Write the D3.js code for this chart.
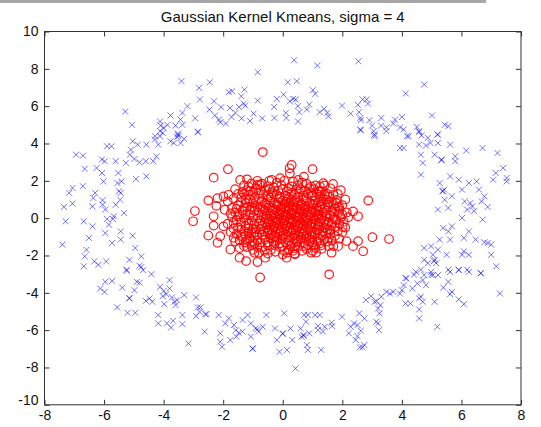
<!DOCTYPE html>
<html><head><meta charset="utf-8">
<script src="https://cdn.jsdelivr.net/npm/d3@7"></script>
<style>body{margin:0;background:#fff}svg{display:block}</style>
</head><body>
<svg id="c" width="541" height="427"></svg>
<script>
const title = "Gaussian Kernel Kmeans, sigma = 4";
const xTicks = [-8,-6,-4,-2,0,2,4,6,8];
const yTicks = [-10,-8,-6,-4,-2,0,2,4,6,8,10];

// Cluster 1 (outer ring, blue x)
const ringPoints = [
[-5.29,5.71],[-5.06,5.0],[-3.40,7.34],[-2.81,6.98],[-2.45,7.28],[-2.78,6.36],[-2.85,4.64],[-2.94,5.35],[-2.46,5.82],[-2.31,6.26],[-2.28,5.5],[-2.14,5.28],[-2.10,5.14],[-2.07,5.94],[-1.91,5.07],[-1.81,6.75],[-1.70,6.8],[-1.77,5.9],[-1.72,5.42],[-1.59,5.64],[-1.47,5.96],[-1.39,6.53],[-1.29,6.89],[-1.31,6.14],[-1.26,6.03],[-1.38,5.35],[-1.10,5.21],[-0.98,5.6],[-0.84,7.82],[-0.84,6.3],[-0.69,5.35],[-0.29,5.96],[-0.28,5.37],[-0.20,6.39],[0.03,6.62],[0.10,5.64],[0.12,5.37],[0.17,7.28],[0.24,6.26],[0.35,6.39],[0.38,8.46],[0.47,7.34],[0.43,6.36],[0.51,6.0],[0.51,5.18],[0.56,5.68],[0.81,5.82],[0.89,6.09],[1.01,6.86],[1.09,6.66],[1.16,8.18],[1.24,5.68],[1.39,5.86],[1.50,5.64],[1.53,5.46],[1.99,6.03],[2.28,5.6],[2.54,8.4],[2.52,6.07],[2.56,5.68],[2.61,5.37],[2.62,5.25],[2.68,6.36],[2.60,4.75],[2.82,6.36],[2.86,6.14],[2.91,5.25],[3.0,4.96],[3.05,4.66],[3.08,4.39],[3.31,5.37],[3.30,4.96],[3.48,4.86],[3.71,5.07],[3.77,5.28],[4.0,5.42],[3.94,4.86],[4.06,4.75],[4.13,6.68],[4.23,4.39],[4.50,4.89],[4.58,4.61],[4.66,4.43],[4.75,7.16],[5.01,5.5],[5.19,4.48],[5.44,5.0],[5.56,4.93],
[-4.29,4.39],[-4.12,4.66],[-4.1,4.96],[-4.0,4.84],[-3.77,5.5],[-3.6,4.96],[-3.43,5.28],[-3.37,5.64],[-3.2,6.0],[-3.52,4.48],[-3.37,5.0],[-4.12,5.18],[-3.87,5.0],
[-7.40,-1.42],[-7.35,0.6],[-7.29,-0.17],[-7.17,1.35],[-7.06,1.62],[-7.06,0.78],[-6.94,3.4],[-6.71,3.35],[-6.71,1.71],[-6.68,-0.17],[-6.65,2.64],[-6.65,-2.05],[-6.68,-2.58],[-6.59,-1.7],[-6.51,-1.06],[-6.39,-0.44],[-6.39,0.63],[-6.36,1.08],[-6.3,1.35],[-6.33,-2.32],[-6.25,2.69],[-6.19,-2.5],[-6.07,3.14],[-6.07,2.42],[-6.05,0.96],[-6.05,0.72],[-6.02,1.97],[-5.98,3.05],[-5.96,0.46],[-5.96,-0.8],[-5.93,-2.32],[-5.9,3.85],[-5.75,3.85],[-5.9,-0.04],[-5.84,-0.35],[-5.73,-1.33],[-5.7,-0.04],[-5.67,0.1],[-5.61,3.05],[-5.61,0.72],[-5.55,1.88],[-5.52,2.42],[-5.5,1.44],[-5.44,1.35],[-5.46,0.99],[-5.44,-0.71],[-5.44,-1.15],[-5.41,1.97],[-5.33,0.28],[-5.27,2.96],[-5.24,-2.76],[-5.15,-2.23],[-5.13,3.4],[-5.1,3.67],[-5.04,4.12],[-5.04,-0.94],[-4.98,3.17],[-4.95,-1.6],[-4.93,2.1],[-4.87,3.94],[-4.81,2.99],[-4.81,-2.55],[-4.75,-2.05],[-4.75,-2.62],[-4.60,3.05],[-4.58,2.24],[-4.58,3.94],[-4.35,3.05],[-4.29,4.21],[-4.24,3.31],[-4.18,3.94],[-4.12,4.39],[-4.03,4.57],[-3.77,4.12],[-3.66,4.03],[-3.52,4.53],[-3.43,4.03],[-3.31,4.25],[-2.85,4.6],[-3.5,4.4],[-3.55,4.35],
[2.62,4.71],[3.08,4.48],[3.48,4.66],[3.94,3.76],[4.06,3.76],[4.17,4.39],[4.58,3.94],[4.58,4.66],[4.64,3.4],[4.7,2.96],[4.64,2.33],[4.81,3.89],[4.87,4.3],[4.96,4.03],[5.1,3.4],[5.21,4.03],[5.21,4.48],[5.27,1.88],[5.21,0.46],[5.33,3.14],[5.36,1.44],[5.42,1.53],[5.44,0.99],[5.62,3.94],[5.62,2.24],[5.56,0.55],[5.68,1.17],[5.79,3.31],[5.79,3.05],[5.91,2.06],[6.02,1.53],[6.02,0.01],[6.11,0.9],[6.16,3.62],[6.19,0.46],[6.25,1.88],[6.30,0.81],[6.36,0.63],[6.42,0.37],[6.51,1.97],[6.59,1.53],[6.68,0.9],[6.71,3.76],[6.71,-0.08],[6.77,1.17],[6.88,0.6],[7.06,2.06],[7.15,2.42],[7.21,3.49],[7.40,2.69],[7.52,2.15],[7.52,1.97],[5.38,1.45],[5.33,3.1],
[5.39,-0.53],[5.56,-0.71],[5.62,-1.15],[5.68,-0.44],[6.08,-1.06],[6.25,-0.71],[6.08,-1.78],[6.02,-1.96],[6.25,-1.96],[6.48,-1.15],[6.77,-1.29],[6.88,-1.33],[7.0,-1.42],[7.0,-1.96],[7.17,-2.58],[4.75,-1.6],[4.98,-1.51],[5.04,-1.96],[5.1,-2.23],[5.21,-1.69],[4.75,-2.23],[4.87,-2.41],[5.15,-2.41],[5.27,-1.15],[5.5,-1.96],[5.56,-2.76],[5.91,-2.76],[6.19,-2.76],[6.65,-2.94],[4.64,-2.76],[4.12,-3.21],[4.41,-3.03],[4.98,-3.03],[5.08,-2.3],
[-6.13,-3.77],[-5.98,-3.95],[-5.96,-3.41],[-5.73,-3.36],[-5.56,-4.78],[-5.39,-3.72],[-5.24,-2.82],[-5.15,-4.3],[-5.21,-5.07],[-4.95,-5.07],[-4.98,-3.86],[-4.9,-3.41],[-4.81,-3.46],[-4.69,-2.79],[-4.60,-4.43],[-4.47,-4.3],[-4.41,-3.00],[-4.38,-4.48],[-4.18,-5.19],[-4.18,-5.64],[-4.12,-3.68],[-4.03,-4.18],[-4.0,-3.9],[-3.91,-4.07],[-3.98,-4.61],[-3.89,-5.64],[-3.80,-3.77],[-3.75,-5.86],[-3.72,-4.25],[-3.68,-5.5],[-3.64,-4.48],[-3.6,-4.66],[-3.54,-4.39],[-3.80,-3.32],[-3.31,-4.12],[-3.37,-5.68],[-3.37,-5.19],[-3.17,-6.71],[-2.91,-4.25],[-2.85,-4.78],[-2.79,-5.02],[-2.76,-4.78],[-2.91,-5.25],[-2.62,-6.08],[-2.56,-5.14],[-2.15,-5.19],[-2.10,-6.62],[-2.04,-6.89],[-2.10,-6.17],[-1.93,-5.64],[-1.81,-5.37],[-1.76,-6.53],[-1.64,-5.73],[-1.58,-6.0],[-1.56,-6.35],[-1.47,-6.14],[-1.35,-5.46],[-1.35,-6.08],[-1.18,-5.19],[-1.07,-5.64],[-1.01,-6.98],[-1.07,-6.35],[-0.92,-5.91],[-0.81,-6.08],[-0.67,-5.82],[-0.55,-5.19],[-0.26,-5.91],[-0.20,-6.53],[-0.11,-7.16],[0.0,-6.17],[0.05,-5.1],[0.14,-7.06],[0.26,-5.91],[0.32,-6.53],[0.43,-8.05],[0.60,-5.91],[0.63,-6.35],[0.70,-6.26],[0.72,-5.19],[0.78,-5.55],[0.81,-6.8],[0.84,-7.06],[0.89,-6.17],[0.84,-5.19],[1.09,-5.19],[1.18,-5.78],[1.18,-6.0],[1.24,-5.19],[1.29,-7.06],[1.35,-6.08],[1.41,-5.82],[1.64,-5.6],[1.66,-5.78],[1.99,-5.28],[2.22,-6.17],[2.28,-5.82],[2.39,-5.64],[2.45,-6.53],[2.51,-5.73],[2.51,-6.32],[2.57,-5.1],[2.62,-6.03],[2.59,-6.92],[2.74,-5.37],[2.74,-6.8],[2.68,-6.92],[2.79,-4.39],[2.97,-4.18],[3.08,-4.48],[3.14,-5.55],[3.2,-5.64],[3.2,-4.84],[3.23,-6.0],[3.25,-5.1],[3.28,-4.66],[3.31,-4.21],[3.48,-3.95],[3.6,-4.04],[3.71,-3.95],[3.94,-4.04],[4.0,-3.86],[4.06,-3.59],[4.12,-4.57],[4.15,-3.23],[4.29,-4.57],[4.35,-3.77],[4.47,-2.88],[4.52,-3.5],[4.58,-4.3],[4.58,-5.37],[4.58,-4.89],[4.64,-4.21],[4.70,-4.48],[4.70,-3.32],[4.75,-3.05],[4.81,-3.59],[4.98,-2.88],[5.04,-3.05],[5.10,-4.48],[5.19,-5.82],[5.21,-3.05],[5.39,-3.72],[5.56,-3.41],[5.62,-4.07],[5.68,-3.95],[5.62,-2.88],[5.91,-2.79],[5.91,-4.35],[6.08,-4.61],[6.25,-2.88],[6.65,-2.96],[7.29,-4.04],[-1.01,-7.0],[0.0,-6.2],[-5.15,-4.28],[3.15,-4.45],[-2.6,-5.15],[-0.85,-5.95],[0.7,-6.3]
];

// Cluster 2 (central blob, red o)
const blobOutliers = [
[-0.67,3.54],[-1.84,2.62],[-2.32,2.17],[-2.50,0.95],[-2.95,0.38],[-3.01,-0.17],[-2.50,-0.93],[-2.32,-0.40],[-2.19,1.07],[-2.23,0.66],[-2.10,-0.97],[-2.19,-1.32],[-1.76,-1.68],[-1.45,-2.12],[-1.23,-2.30],[-0.85,-2.35],[-0.59,-2.12],[-0.76,-3.18],[0.13,-2.12],[0.41,-1.94],[1.12,-1.85],[1.56,-3.01],[1.64,-1.85],[1.86,-1.50],[2.14,-1.23],[2.36,-1.50],[2.53,-1.23],[2.70,-1.77],[3.01,-1.02],[2.87,0.95],[2.36,0.36],[2.53,0.10],[2.01,-0.47],[1.69,1.83],[1.36,1.87],[1.00,2.62],[0.30,2.85],[0.24,2.40],[0.71,2.22],[-1.43,2.05],[-1.20,2.08],[-0.76,1.78],[-0.37,2.05],[-0.09,2.14],[0.52,2.05],[-1.99,1.16],[-1.82,1.25],[-2.32,0.10],[-1.99,-0.44],[-1.65,-1.05],[1.81,0.98],[1.86,0.63],[1.75,-0.08],[1.58,-0.61],[1.47,0.19],[1.25,1.43],[3.57,-1.12],[0.23,2.67]
];
const blobCore = [
[-0.7,0.9],[-0.5,1.0],[-0.3,0.8],[-0.1,1.05],[0.1,0.9],[0.3,1.0],[0.5,0.85],[0.7,1.0],[0.9,0.8],[1.1,0.95],
[-0.75,0.6],[-0.55,0.7],[-0.35,0.55],[-0.15,0.65],[0.05,0.6],[0.25,0.7],[0.45,0.55],[0.65,0.65],[0.85,0.6],[1.05,0.7],
[-0.8,0.3],[-0.6,0.4],[-0.4,0.25],[-0.2,0.35],[0.0,0.3],[0.2,0.4],[0.4,0.25],[0.6,0.35],[0.8,0.3],[1.0,0.4],[1.15,0.2],
[-0.85,0.0],[-0.65,0.1],[-0.45,-0.05],[-0.25,0.05],[-0.05,0.0],[0.15,0.1],[0.35,-0.05],[0.55,0.05],[0.75,0.0],[0.95,0.1],[1.1,-0.1],
[-0.8,-0.3],[-0.6,-0.2],[-0.4,-0.35],[-0.2,-0.25],[0.0,-0.3],[0.2,-0.2],[0.4,-0.35],[0.6,-0.25],[0.8,-0.3],[1.0,-0.2],
[-0.75,-0.6],[-0.55,-0.5],[-0.35,-0.65],[-0.15,-0.55],[0.05,-0.6],[0.25,-0.5],[0.45,-0.65],[0.65,-0.55],[0.85,-0.6],[1.05,-0.5],
[-0.7,-0.9],[-0.5,-0.8],[-0.3,-0.95],[-0.1,-0.85],[0.1,-0.9],[0.3,-0.8],[0.5,-0.95],[0.7,-0.85],[0.9,-0.9],
[-0.6,-1.15],[-0.4,-1.1],[-0.2,-1.2],[0.0,-1.1],[0.2,-1.2],[0.4,-1.1],[0.6,-1.15],[0.8,-1.1],
[-0.5,1.2],[-0.2,1.25],[0.1,1.2],[0.4,1.25],[0.7,1.2],
[0.1,0.15],[0.3,0.2],[0.05,-0.15],[0.25,-0.1],[0.45,0.1],[-0.1,0.2],[0.15,-0.4],[0.35,0.45],[-0.15,-0.1],[0.5,-0.45],[0.2,0.55],[0.6,0.5],[-0.3,-0.45],[0.7,-0.4],[-0.05,0.45],
[-1.2,1.5],[-0.9,1.6],[-0.6,1.5],[-0.3,1.65],[0.0,1.55],[0.3,1.7],[0.6,1.55],[0.9,1.6],[1.2,1.45],[1.5,1.3],
[-1.4,1.1],[-1.15,1.25],[-0.95,1.1],[1.25,1.15],[1.45,1.0],[1.65,0.9],
[-1.5,0.7],[-1.25,0.8],[-1.05,0.6],[1.3,0.75],[1.55,0.6],[1.75,0.5],
[-1.6,0.3],[-1.35,0.4],[-1.1,0.2],[1.35,0.3],[1.6,0.15],[1.85,0.25],
[-1.55,-0.1],[-1.3,0.0],[-1.05,-0.15],[1.3,-0.05],[1.55,-0.2],[1.8,-0.1],
[-1.5,-0.5],[-1.25,-0.4],[-1.0,-0.55],[1.25,-0.45],[1.5,-0.6],[1.75,-0.45],
[-1.4,-0.9],[-1.15,-0.8],[-0.95,-1.0],[1.1,-0.85],[1.35,-0.95],[1.6,-0.85],
[-1.25,-1.3],[-0.95,-1.35],[1.0,-1.3],[1.25,-1.35],[1.5,-1.25],
[-1.0,-1.7],[-0.7,-1.55],[-0.4,-1.7],[-0.1,-1.55],[0.2,-1.7],[0.5,-1.55],[0.8,-1.65],[1.1,-1.6],
[-0.5,-1.9],[0.0,-1.95],[0.4,-1.9],
[-0.7,1.85],[-0.2,1.9],[0.35,1.95],[0.8,1.85],[1.1,1.75],[1.6,1.6],
[-1.6,1.55],[-1.85,0.9],[-1.95,0.45],[-1.85,-0.3],[-1.75,-0.75],[-1.6,-1.25],[-1.45,-1.6],
[2.0,0.7],[2.05,-0.2],[2.0,-0.75],[1.9,-1.1],[1.85,1.3],[2.15,0.3],[1.95,0.05],
[-1.7,0.05],[-1.65,1.05],[-1.3,1.75],[1.4,1.75],[1.7,-1.5],
[-0.6,0.78],[-0.4,0.88],[-0.2,0.72],[0.0,0.95],[0.2,0.82],[0.4,0.92],[0.6,0.75],[0.8,0.9],[1.0,0.78],[1.2,0.85],
[-0.65,0.48],[-0.45,0.58],[-0.25,0.45],[-0.05,0.55],[0.15,0.48],[0.35,0.6],[0.55,0.45],[0.75,0.55],[0.95,0.48],[1.15,0.58],
[-0.7,0.18],[-0.5,0.28],[-0.3,0.15],[-0.1,0.25],[0.1,0.2],[0.3,0.3],[0.5,0.15],[0.7,0.25],[0.9,0.2],[1.1,0.3],[1.3,0.12],
[-0.75,-0.12],[-0.55,-0.02],[-0.35,-0.15],[-0.15,-0.05],[0.05,-0.1],[0.25,0.0],[0.45,-0.15],[0.65,-0.05],[0.85,-0.1],[1.05,0.0],[1.25,-0.2],
[-0.7,-0.42],[-0.5,-0.32],[-0.3,-0.45],[-0.1,-0.35],[0.1,-0.42],[0.3,-0.3],[0.5,-0.45],[0.7,-0.35],[0.9,-0.42],[1.1,-0.32],
[-0.65,-0.72],[-0.45,-0.62],[-0.25,-0.75],[-0.05,-0.65],[0.15,-0.72],[0.35,-0.62],[0.55,-0.75],[0.75,-0.65],[0.95,-0.72],[1.15,-0.62],
[-0.6,-1.02],[-0.4,-0.92],[-0.2,-1.05],[0.0,-0.95],[0.2,-1.02],[0.4,-0.92],[0.6,-1.05],[0.8,-0.95],[1.0,-1.02],
[-0.5,-1.3],[-0.3,-1.25],[-0.1,-1.35],[0.1,-1.3],[0.3,-1.38],[0.5,-1.28],[0.7,-1.35],[0.9,-1.25],
[-0.4,1.1],[-0.1,1.15],[0.2,1.08],[0.5,1.12],[0.8,1.1],[1.0,1.2],
[-1.1,1.0],[-0.9,0.85],[-1.2,0.6],[-0.95,0.4],[-1.15,-0.3],[-0.95,-0.75],[-1.1,-1.1],[-0.85,-1.2],[-1.3,-0.7],[-1.45,0.2],
[1.3,0.9],[1.4,0.5],[1.45,-0.35],[1.35,-0.7],[1.2,-1.1],[1.55,-1.05],[1.7,0.7],[1.65,-0.25],[1.4,1.25],[1.15,1.3],
[-0.8,1.35],[-0.35,1.4],[0.15,1.45],[0.55,1.4],[0.95,1.35],[-1.0,1.4],[-0.5,-1.45],[0.0,-1.5],[0.4,-1.6],[0.7,-1.5],
[-1.05,1.85],[-0.85,2.0],[-1.3,1.3],[-1.5,1.3],[-1.7,0.55],[-1.35,-1.0],[-1.2,-1.55],[-0.8,-1.85],[0.15,-1.85],[0.95,-1.85],
[1.3,-1.65],[1.55,-1.5],[2.1,-0.5],[2.2,0.05],[1.95,1.5],[2.1,1.0],[1.7,1.25],[0.65,1.9],[0.05,2.0],[-0.45,2.0],
[-1.1,1.45],[-0.75,1.5],[-0.45,1.55],[-0.15,1.48],[0.2,1.6],[0.45,1.52],[0.75,1.45],[1.05,1.55],[1.3,1.45],
[-1.15,1.7],[-0.85,1.78],[-0.5,1.72],[-0.05,1.78],[0.5,1.75],[0.95,1.7],[1.25,1.7],
[-1.35,1.4],[-0.65,1.25],[-0.3,1.3],[0.3,1.35],[0.85,1.3],[1.55,1.15],
[-1.25,1.0],[-0.8,1.05],[1.35,1.05],[1.55,0.85],[1.8,0.8],
[-1.4,0.85],[-1.0,0.8],[-0.85,0.6],[1.25,0.6],[1.5,0.75],[1.9,0.55],
[-1.55,0.5],[-1.3,0.55],[-1.1,0.45],[-0.95,0.55],[1.2,0.4],[1.45,0.4],[1.65,0.35],[1.9,0.4],
[-1.75,0.25],[-1.5,0.1],[-1.25,0.2],[-1.0,0.05],[1.2,0.05],[1.45,0.1],[1.7,0.0],[2.0,0.2],
[-1.65,-0.25],[-1.4,-0.2],[-1.2,-0.1],[-0.95,-0.3],[1.2,-0.3],[1.4,-0.15],[1.65,-0.35],[1.9,-0.3],
[-1.65,-0.55],[-1.4,-0.6],[-1.15,-0.55],[-0.9,-0.6],[1.2,-0.6],[1.4,-0.5],[1.6,-0.65],[1.85,-0.7],
[-1.55,-0.85],[-1.25,-0.95],[-1.05,-0.8],[-0.85,-0.9],[1.05,-0.75],[1.25,-0.85],[1.45,-0.8],[1.75,-0.95],
[-1.45,-1.2],[-1.2,-1.2],[-1.0,-1.25],[-0.75,-1.3],[0.95,-1.15],[1.15,-1.25],[1.4,-1.15],[1.65,-1.2],
[-1.3,-1.5],[-1.05,-1.45],[-0.85,-1.55],[-0.3,-1.45],[0.25,-1.5],[0.85,-1.45],[1.05,-1.45],[1.3,-1.45],
[-0.95,-1.85],[-0.6,-1.75],[-0.25,-1.8],[0.05,-1.75],[0.35,-1.75],[0.65,-1.75],[1.0,-1.75],
[-0.55,0.15],[-0.35,0.4],[-0.15,0.85],[0.05,0.75],[0.35,0.85],[0.55,0.25],[0.75,0.45],[0.95,0.3],[-0.45,-0.25],[-0.25,-0.2],[0.35,-0.2],[0.55,-0.35],[0.75,-0.2],[0.95,-0.3],[-0.5,-0.65],[-0.1,-0.75],[0.25,-0.65],[0.65,-0.8],[-0.25,-1.0],[0.45,-1.25]
];

const svg = d3.select("#c");
const L = 44.5, R = 521, T = 31.5, B = 404.8;
const x = d3.scaleLinear().domain([-8, 8]).range([L, R]);
const y = d3.scaleLinear().domain([-10, 10]).range([B, T]);
const sans = "'Liberation Sans', Arial, Helvetica, sans-serif";

// top gray strip
svg.append("rect").attr("x", 0).attr("y", 0).attr("width", 486).attr("height", 3).attr("fill", "#a6a6a6");

svg.append("text").attr("x", (L + R) / 2).attr("y", 21.5).attr("text-anchor", "middle")
  .attr("font-family", sans).attr("font-size", 15).attr("fill", "#111").text(title);

// points
svg.append("g").selectAll("path").data(ringPoints).join("path")
  .attr("d", d => { const px = x(d[0]), py = y(d[1]), s = 3; return `M${px-s},${py-s}L${px+s},${py+s}M${px-s},${py+s}L${px+s},${py-s}`; })
  .attr("stroke", "#0000ff").attr("stroke-opacity", 0.55).attr("stroke-width", 1).attr("fill", "none");

svg.append("g").selectAll("circle").data(blobOutliers.concat(blobCore)).join("circle")
  .attr("cx", d => x(d[0])).attr("cy", d => y(d[1])).attr("r", 4.3)
  .attr("fill", "none").attr("stroke", "#ff0000").attr("stroke-opacity", 0.9).attr("stroke-width", 1.2);

// axes
const fmt = d => String(d);
const font = g => g.selectAll("text").attr("font-family", sans).attr("font-size", 14).attr("fill", "#111");
const clean = g => { g.select(".domain").remove(); g.selectAll("line").attr("stroke", "#333"); };
svg.append("g").attr("transform", `translate(0,${B})`)
  .call(d3.axisBottom(x).tickValues(xTicks).tickFormat(fmt).tickSizeInner(-5).tickSizeOuter(0).tickPadding(5))
  .call(clean).call(font);
svg.append("g").attr("transform", `translate(${L},0)`)
  .call(d3.axisLeft(y).tickValues(yTicks).tickFormat(fmt).tickSizeInner(-5).tickSizeOuter(0).tickPadding(6))
  .call(clean).call(font)
  .call(g => g.selectAll(".tick").filter(d => d === -10).select("text").attr("dy", "0.0em"));
svg.append("g").attr("transform", `translate(0,${T})`)
  .call(d3.axisTop(x).tickValues(xTicks).tickFormat("").tickSizeInner(-5).tickSizeOuter(0))
  .call(clean);
svg.append("g").attr("transform", `translate(${R},0)`)
  .call(d3.axisRight(y).tickValues(yTicks).tickFormat("").tickSizeInner(-5).tickSizeOuter(0))
  .call(clean);
svg.append("rect").attr("x", L).attr("y", T).attr("width", R - L).attr("height", B - T)
  .attr("fill", "none").attr("stroke", "#333").attr("stroke-width", 1);
</script>
</body></html>
